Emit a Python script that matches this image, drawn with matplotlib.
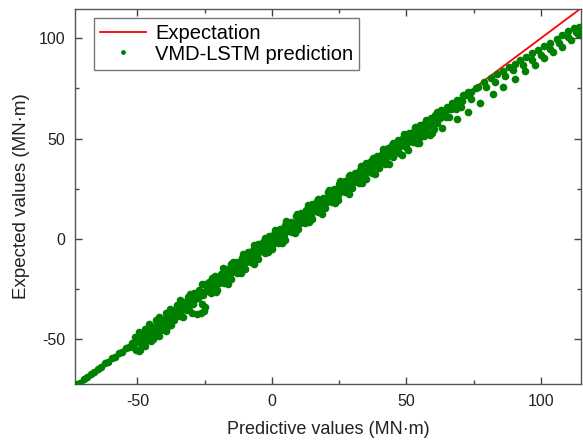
import matplotlib
matplotlib.use("Agg")
import matplotlib.pyplot as plt
from matplotlib.ticker import MultipleLocator

# ---------------- data ----------------
line_x = [-80, 120]
line_y = [-80, 120]

# thin lower tail
tail_x = [-74.0, -72.6, -71.3, -70.0, -68.7, -67.4, -66.1, -64.8, -63.5, -62.2,
          -60.9, -59.6, -58.3, -57.0, -55.7, -54.4, -53.1, -52.0]
tail_y = [-73.8, -72.3, -71.5, -69.6, -68.9, -67.0, -66.4, -64.5, -63.9, -61.8,
          -61.3, -59.2, -58.8, -56.6, -56.2, -54.0, -53.6, -52.9]

# dense band, top
f_x = [-49.5, -45.8, -41.9, -38.0, -34.2, -30.3, -26.1, -22.4, -18.3, -14.5,
       -10.6, -6.8, -2.7, 1.2, 5.1, 9.2, 13.3, 17.1, 21.2, 25.3, 29.1, 33.2,
       37.4, 41.3, 45.1, 49.2, 53.3, 57.1, 61.4]
f_y = [-46.4, -42.2, -39.0, -34.6, -30.4, -27.3, -22.6, -19.2, -14.6, -11.6,
       -7.3, -3.2, 0.3, 4.6, 8.9, 12.3, 16.8, 20.0, 24.5, 29.0, 32.1, 36.6,
       40.5, 44.9, 47.9, 52.4, 55.9, 59.5, 63.4]

# dense band, upper edge
a_x = [-51, -49, -47.2, -45, -43.1, -41, -39.2, -37, -35.3, -33, -31.2, -29, -27.1,
       -25, -23.2, -21, -19.1, -17, -15.3, -13, -11.2, -9, -7.1, -5, -3.2, -1, 0.9,
       3, 4.8, 7, 8.9, 11, 12.8, 15, 16.9, 19, 20.8, 23, 24.9, 27, 28.8, 31, 32.9,
       35, 36.8, 39, 40.9, 43, 44.8, 47, 48.9, 51, 52.8, 55, 56.9, 59, 60.8, 63,
       64.9, 67, 68.8, 71, 73]
a_y = [-48.9, -47.4, -44.7, -43.1, -40.4, -39.6, -37.0, -35.2, -32.7, -31.5, -28.9,
       -27.0, -25.4, -22.2, -21.3, -18.6, -17.5, -14.8, -12.6, -11.2, -9.2, -6.5,
       -5.6, -2.7, -1.3, 1.6, 2.6, 5.1, 7.2, 8.6, 11.7, 13.0, 14.6, 17.5, 19.1, 20.5,
       23.4, 24.9, 27.2, 28.7, 31.2, 33.0, 34.5, 37.7, 38.7, 41.2, 42.4, 45.4, 46.6,
       49.1, 50.3, 52.9, 54.0, 56.6, 57.9, 60.3, 61.6, 64.1, 65.5, 67.9, 69.2, 71.7,
       73.2]

# dense band, centre
b_x = [-52, -50.1, -48, -46.1, -44, -42.2, -40, -38.1, -36, -34.2, -32, -30.1, -28,
       -26.2, -24, -22.1, -20, -18.2, -16, -14.1, -12, -10.2, -8, -6.1, -4, -2.2, 0,
       1.9, 4, 5.8, 8, 9.9, 12, 13.8, 16, 17.9, 20, 21.8, 24, 25.9, 28, 29.8, 32, 33.9,
       36, 37.8, 40, 41.9, 44, 45.8, 48, 49.9, 52, 53.8, 56, 57.9, 60, 61.8, 64, 65.9,
       68, 69.8, 72, 74, 76]
b_y = [-51.7, -50.5, -47.4, -46.3, -43.9, -41.7, -40.5, -37.9, -36.1, -33.8, -32.3,
       -30.1, -27.4, -26.6, -23.8, -22.2, -19.5, -18.5, -15.9, -13.7, -12.5, -10.0,
       -8.0, -6.3, -3.5, -2.6, 0.1, 2.2, 3.7, 6.4, 7.9, 10.1, 11.6, 14.2, 16.0, 17.7,
       20.5, 21.3, 24.1, 26.2, 27.7, 30.0, 31.9, 34.3, 35.6, 37.8, 40.3, 41.7, 44.1,
       45.3, 48.2, 49.6, 52.0, 53.2, 55.8, 57.5, 59.9, 61.1, 63.7, 65.4, 67.8, 69.0,
       71.6, 73.4, 75.1]

# dense band, just below centre
e_x = [-50.8, -48.7, -46.5, -44.6, -42.4, -40.5, -38.4, -36.6, -34.5, -32.6,
       -30.4, -28.5, -26.4, -24.6, -22.5, -20.6, -18.4, -16.5, -14.6, -12.4,
       -10.5, -8.6, -6.4, -4.5, -2.6, -0.4, 1.5, 3.6, 5.5, 7.6,
       9.5, 11.4, 13.5, 15.4, 17.6, 19.5, 21.4, 23.6, 25.5, 27.4,
       29.6, 31.5, 33.4, 35.6, 37.5, 39.4, 41.6, 43.5, 45.4, 47.6,
       49.5, 51.4, 53.6, 55.5, 57.4, 59.6, 61.5, 63.4, 65.6, 67.5, 69.6]
e_y = [-51.8, -50.1, -47.3, -45.8, -43.9, -41.4, -39.7, -37.7, -36.1, -33.4,
       -31.6, -29.9, -27.4, -26.1, -23.4, -21.9, -19.5, -18.1, -15.4, -13.6,
       -11.9, -9.6, -7.9, -5.4, -3.9, -1.5, -0.1, 2.8, 4.3, 6.2,
       8.5, 9.9, 12.6, 14.1, 16.5, 17.9, 20.6, 22.4, 24.1, 26.4,
       28.1, 30.6, 32.1, 34.5, 35.9, 38.6, 40.4, 42.1, 44.4, 46.1,
       48.6, 50.1, 52.5, 54.1, 56.6, 58.4, 60.5, 62.1, 64.7, 66.4, 68.8]

# dense band, below centre
c_x = [-51.5, -49.4, -47.6, -45.5, -43.6, -41.5, -39.6, -37.5, -35.6, -33.5, -31.6,
       -29.5, -27.6, -25.5, -23.6, -21.5, -19.6, -17.5, -15.6, -13.5, -11.6, -9.5,
       -7.6, -5.5, -3.6, -1.5, 0.4, 2.5, 4.4, 6.5, 8.4, 10.5, 12.4, 14.5, 16.4, 18.5,
       20.4, 22.5, 24.4, 26.5, 28.4, 30.5, 32.4, 34.5, 36.4, 38.5, 40.4, 42.5, 44.4,
       46.5, 48.4, 50.5, 52.4, 54.5, 56.4, 58.5, 60.4, 62.5, 64.4, 66.5, 68.4, 70.5]
c_y = [-53.9, -51.3, -50.4, -47.6, -46.2, -43.3, -42.1, -39.7, -38.5, -35.5, -33.9,
       -32.2, -29.5, -27.9, -25.7, -24.3, -21.8, -20.0, -17.4, -16.1, -13.9, -11.5,
       -10.3, -7.7, -6.0, -3.4, -2.4, 0.4, 1.9, 4.2, 6.4, 7.9, 10.2, 11.6, 14.5, 16.1,
       18.3, 19.8, 22.1, 24.5, 25.9, 28.3, 29.6, 32.6, 34.0, 36.4, 37.8, 40.5, 42.1,
       43.8, 46.6, 48.1, 50.3, 52.0, 54.5, 56.3, 58.7, 60.5, 62.8, 64.6, 66.9, 68.7]

# dense band, lower edge
d_x = [-50.5, -48.2, -46, -43.8, -41.2, -38.8, -36.4, -34.1, -31.5, -22.8, -20.3,
       -17.9, -15.2, -12.8, -10.1, -7.7, -5.2, -2.6, -0.1, 2.3, 4.9, 7.4, 9.8, 12.3,
       14.9, 17.2, 19.8, 22.4, 24.7, 27.3, 29.9, 32.2, 34.8, 37.1, 39.7, 42.2, 44.9,
       47.3, 49.8, 52.6, 55.1, 57.7, 61.2, 64.8, 68.3]
d_y = [-55.0, -53.3, -50.2, -48.6, -45.1, -43.4, -40.5, -38.5, -35.3, -27.1, -25.2,
       -21.9, -19.8, -17.0, -15.1, -11.6, -9.7, -6.7, -4.9, -2.0, -0.3, 3.4, 5.2, 7.9,
       10.0, 13.4, 15.3, 18.2, 19.6, 23.3, 25.2, 27.9, 30.0, 33.0, 35.3, 37.2, 40.7,
       42.7, 45.9, 48.1, 51.0, 52.9, 57.6, 60.6, 64.9]

# scattered dots under the lower edge
g_x = [-48.9, -44.3, -37.6, -33.0, -20.9, -16.3, -11.4, -6.5, -1.3, 3.8, 8.6,
       13.7, 18.6, 23.5, 28.5, 33.6, 38.4, 43.4, 48.2, 53.9, 59.4]
g_y = [-55.1, -50.0, -43.0, -38.9, -26.4, -22.4, -17.0, -12.4, -6.6, -2.2, 2.9,
       8.3, 12.4, 17.9, 22.6, 28.1, 32.4, 37.6, 41.9, 48.0, 53.0]

# lower bulge near the start of the band
bulge_x = [-49.5, -47.0, -44.8, -42.0, -39.5]
bulge_y = [-55.8, -53.2, -51.0, -48.3, -45.6]

# small loop below the band
loop_x = [-31.5, -30.8, -29.6, -28.0, -26.5, -25.4, -24.9, -26.0]
loop_y = [-33.5, -35.5, -36.8, -37.3, -36.9, -35.6, -33.8, -32.5]

# sparse tracks at the upper end
u_x = [76.5, 79.0, 81.3, 83.5, 85.8, 88.0, 90.2, 92.4, 94.6, 96.8, 99.0, 101.3,
       103.5, 105.8, 108.0, 110.2, 112.3, 114.0, 114.6, 114.9]
u_y = [75.8, 78.0, 80.1, 82.0, 83.9, 85.7, 87.4, 89.1, 90.8, 92.4, 94.1, 95.9,
       97.8, 99.7, 101.6, 103.4, 104.9, 105.6, 104.0, 101.8]
m_x = [56.5, 60.2, 66.0, 70.4, 74.1, 79.5, 83.0, 86.5, 89.8, 93.2, 96.6, 100.0,
       103.4, 106.8, 110.0, 113.0]
m_y = [51.2, 54.8, 60.9, 65.8, 69.7, 75.5, 78.4, 81.3, 84.0, 86.6, 89.2, 91.8,
       94.6, 97.5, 100.6, 103.2]
l_x = [50.6, 54.5, 58.7, 63.1, 68.7, 72.9, 77.3, 82.3, 86.0, 90.3, 94.0, 97.8,
       101.1, 104.3, 107.7, 111.0, 113.9]
l_y = [44.3, 47.6, 51.7, 55.4, 59.7, 63.3, 67.8, 72.0, 75.5, 79.6, 83.7, 86.9,
       90.2, 92.9, 95.7, 99.0, 102.3]

pred_x = (tail_x + f_x + a_x + b_x + e_x + c_x + d_x + g_x + bulge_x + loop_x
          + u_x + m_x + l_x)
expt_y = (tail_y + f_y + a_y + b_y + e_y + c_y + d_y + g_y + bulge_y + loop_y
          + u_y + m_y + l_y)

x_ticks = [-50, 0, 50, 100]
y_ticks = [-50, 0, 50, 100]

# ---------------- plotting ----------------
plt.rcParams['font.family'] = ['Liberation Sans', 'DejaVu Sans']
plt.rcParams['axes.unicode_minus'] = False

fig = plt.figure(figsize=(5.83, 4.44), dpi=100)
ax = fig.add_axes([0.1286, 0.135, 0.868, 0.845])

ax.plot(line_x, line_y, color='#ff0000', lw=1.3, label='Expectation', zorder=2)
ax.plot(pred_x, expt_y, linestyle='none', marker='o', ms=5.5, mew=0,
        color='#008000', label='VMD-LSTM prediction', zorder=3)

ax.set_xlim(-73.2, 114.9)
ax.set_ylim(-72.2, 114.6)
ax.set_xticks(x_ticks)
ax.set_yticks(y_ticks)
ax.xaxis.set_minor_locator(MultipleLocator(25))
ax.yaxis.set_minor_locator(MultipleLocator(25))
ax.tick_params(which='both', direction='in', top=True, right=True,
               colors='#444444', labelcolor='#222222', labelsize=11.5, width=1)
ax.tick_params(which='major', length=5, pad=7)
ax.tick_params(which='minor', length=3)
for s in ax.spines.values():
    s.set_color('#555555')
    s.set_linewidth(1.0)

ax.set_xlabel('Predictive values (MN·m)', fontsize=13, color='#222222', labelpad=9)
ax.set_ylabel('Expected values (MN·m)', fontsize=13.5, color='#222222', labelpad=6)

leg = ax.legend(loc='upper left', bbox_to_anchor=(0.037, 0.976), fontsize=14.5,
                frameon=True, fancybox=False, edgecolor='#555555',
                borderpad=0.3, labelspacing=0.08, handlelength=2.3,
                handletextpad=0.45, borderaxespad=0)
leg.get_frame().set_linewidth(1.0)
leg.legend_handles[1].set_markersize(3.5)

fig.savefig('out.png', dpi=100)
